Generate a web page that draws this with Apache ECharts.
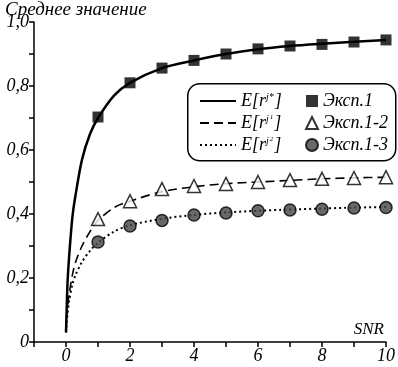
<!DOCTYPE html>
<html>
<head>
<meta charset="utf-8">
<script src="https://cdn.jsdelivr.net/npm/echarts@6/dist/echarts.min.js"></script>
<style>
  html, body { margin: 0; padding: 0; background: #fff; }
  #main { width: 398px; height: 367px; }
</style>
</head>
<body>
<div id="main"></div>
<script>
// кривые
var snrCurve = [0, 0.02, 0.05, 0.1, 0.2, 0.3, 0.5, 0.75, 1, 1.5, 2, 3, 4, 5, 6, 7, 8, 9, 10];
var curveStar = [0.03, 0.10, 0.19, 0.27, 0.39, 0.46, 0.57, 0.65, 0.70, 0.77, 0.81, 0.856, 0.88, 0.90, 0.915, 0.925, 0.932, 0.938, 0.944];
var curveJ1 = [0.03, 0.07, 0.11, 0.15, 0.21, 0.25, 0.30, 0.345, 0.38, 0.42, 0.44, 0.47, 0.485, 0.495, 0.50, 0.505, 0.51, 0.513, 0.515];
var curveJ2 = [0.03, 0.06, 0.09, 0.13, 0.18, 0.21, 0.25, 0.285, 0.31, 0.345, 0.365, 0.385, 0.397, 0.405, 0.41, 0.414, 0.417, 0.42, 0.422];

// эксперимент
var snrExp = [1, 2, 3, 4, 5, 6, 7, 8, 9, 10];
var exp1 = [0.703, 0.81, 0.856, 0.88, 0.90, 0.916, 0.925, 0.93, 0.9375, 0.944];
var exp12 = [0.384, 0.44, 0.478, 0.4875, 0.494, 0.50, 0.506, 0.51, 0.5125, 0.515];
var exp13 = [0.3125, 0.3625, 0.38, 0.397, 0.403, 0.41, 0.4125, 0.415, 0.419, 0.42];

var lineNames = ['E[r^j*]', 'E[r^j_1]', 'E[r^j_2]'];
var expNames = ['Эксп.1', 'Эксп.1-2', 'Эксп.1-3'];

function pairs(xs, ys) {
    return xs.map(function(x, i) { return [x, ys[i]]; });
}

var serif = 'Liberation Serif';
var myChart = echarts.init(document.getElementById('main'));

var option = {
    animation: false,
    title: {
        text: 'Среднее значение',
        left: 0,
        top: -5,
        textStyle: { fontFamily: serif, fontStyle: 'italic', fontWeight: 'normal', fontSize: 19, color: '#000' }
    },
    grid: { left: 34, right: 8, top: 22, bottom: 25 },
    graphic: [{
        type: 'rect',
        left: 187,
        top: 83,
        z: 3,
        shape: { width: 208, height: 77, r: 12 },
        style: { fill: '#fff', stroke: '#000', lineWidth: 1.5 }
    }],
    legend: [{
        data: lineNames,
        orient: 'vertical',
        left: 194,
        top: 87,
        itemGap: 4,
        itemWidth: 36,
        itemHeight: 17,
        z: 5,
        itemStyle: { opacity: 0 },
        formatter: function(name) {
            var sup = name.split('^')[1].replace(']', '');
            var parts = sup.split('_');
            var s = '{e|E[r}{s|' + parts[0] + '}';
            if (parts[1]) s += '{t|' + parts[1] + '}';
            return s + '{e|]}';
        },
        textStyle: {
            rich: {
                e: { fontFamily: serif, fontStyle: 'italic', fontSize: 18, color: '#000' },
                s: { fontFamily: serif, fontStyle: 'italic', fontSize: 10, color: '#000', verticalAlign: 'top', padding: [0, 1, 6, 0] },
                t: { fontFamily: serif, fontStyle: 'italic', fontSize: 7, color: '#000', verticalAlign: 'top', padding: [0, 1, 1, 0] }
            }
        }
    }, {
        data: expNames,
        orient: 'vertical',
        left: 300,
        top: 87,
        itemGap: 4,
        itemWidth: 12,
        itemHeight: 12,
        z: 5,
        textStyle: { fontFamily: serif, fontStyle: 'italic', fontSize: 18, color: '#000', lineHeight: 17 }
    }],
    xAxis: {
        type: 'value',
        min: -1,
        max: 10,
        interval: 1,
        name: 'SNR',
        nameLocation: 'end',
        nameGap: 0,
        nameTextStyle: { fontFamily: serif, fontStyle: 'italic', fontSize: 17, color: '#000', align: 'right', verticalAlign: 'bottom', padding: [0, 2, 4, 0] },
        splitLine: { show: false },
        axisLine: { onZero: false, lineStyle: { color: '#000', width: 1.5 } },
        axisTick: { length: 5, lineStyle: { color: '#000', width: 1.5 } },
        axisLabel: {
            fontFamily: serif, fontStyle: 'italic', fontSize: 18, color: '#000', margin: 5,
            formatter: function(v) { return (v >= 0 && v % 2 === 0) ? String(v) : ''; }
        }
    },
    yAxis: {
        type: 'value',
        min: 0,
        max: 1,
        interval: 0.1,
        splitLine: { show: false },
        axisLine: { show: true, onZero: false, lineStyle: { color: '#000', width: 1.5 } },
        axisTick: { show: true, length: 5, lineStyle: { color: '#000', width: 1.5 } },
        axisLabel: {
            fontFamily: serif, fontStyle: 'italic', fontSize: 18, color: '#000', margin: 5,
            formatter: function(v) {
                var k = Math.round(v * 10);
                if (k % 2 !== 0) return '';
                if (k === 0) return '0';
                return (k / 10).toFixed(1).replace('.', ',');
            }
        }
    },
    series: [
        { name: lineNames[0], type: 'line', smooth: 0.3, symbol: 'none', data: pairs(snrCurve, curveStar),
          lineStyle: { color: '#000', width: 2.5, type: 'solid' }, itemStyle: { color: '#000' } },
        { name: lineNames[1], type: 'line', smooth: 0.3, symbol: 'none', data: pairs(snrCurve, curveJ1),
          lineStyle: { color: '#000', width: 1.6, type: [9, 5] }, itemStyle: { color: '#000' } },
        { name: lineNames[2], type: 'line', smooth: 0.3, symbol: 'none', data: pairs(snrCurve, curveJ2),
          lineStyle: { color: '#000', width: 2, type: [2, 3] }, itemStyle: { color: '#000' } },
        { name: expNames[0], type: 'scatter', symbol: 'rect', symbolSize: 11, data: pairs(snrExp, exp1),
          itemStyle: { color: '#000' }, z: 4 },
        { name: expNames[1], type: 'scatter', symbol: 'triangle', symbolSize: 13, data: pairs(snrExp, exp12),
          itemStyle: { color: '#fff', borderColor: '#000', borderWidth: 1.5 }, z: 4 },
        { name: expNames[2], type: 'scatter', symbol: 'circle', symbolSize: 12, data: pairs(snrExp, exp13),
          itemStyle: { color: '#444', borderColor: '#000', borderWidth: 1.5 }, z: 4 }
    ]
};

myChart.setOption(option);
</script>
</body>
</html>
